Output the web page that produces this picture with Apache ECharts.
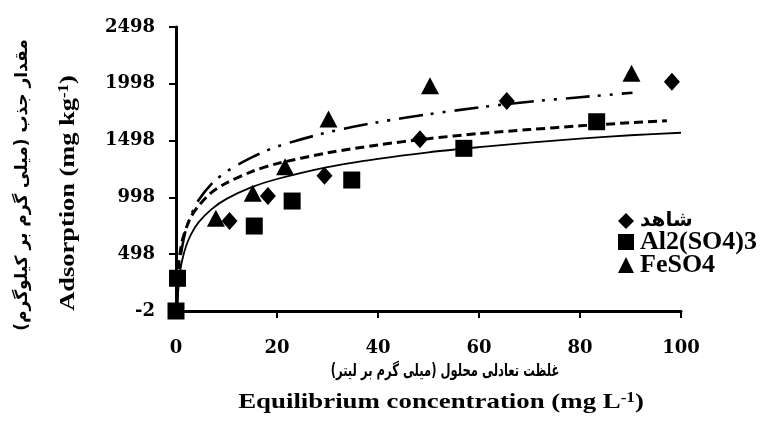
<!DOCTYPE html>
<html dir="ltr">
<head>
<meta charset="utf-8">
<script src="https://cdn.jsdelivr.net/npm/echarts@6/dist/echarts.min.js"></script>
<style>html,body{margin:0;padding:0;background:#fff;}#c{width:762px;height:436px;}</style>
</head>
<body>
<div id="c"></div>
<script>
// ---- data ----
const seriesNames = ['شاهد', 'Al2(SO4)3', 'FeSO4'];
const controlX = [10.6, 18.2, 29.4, 48.3, 65.5, 98.2];
const controlY = [790, 1010, 1189, 1509, 1846, 2016];
const alX = [0, 0.3, 15.5, 23, 34.8, 57, 83.3];
const alY = [-2, 286, 746, 966, 1151, 1430, 1664];
const feX = [7.9, 15.2, 21.6, 30.2, 50.3, 90.2];
const feY = [814, 1034, 1268, 1688, 1981, 2090];
// trend lines
const alTrendX = [0.22, 0.3, 0.5, 0.8, 1.2, 2, 3, 4.5, 7, 10, 15, 20, 30, 40, 50, 60, 70, 80, 90, 100];
const alTrendY = [10, 90, 220, 340, 440, 570, 675, 780, 893, 985, 1088, 1160, 1265, 1338, 1395, 1440, 1480, 1515, 1545, 1567];
const controlTrendX = [0.2, 0.3, 0.5, 0.8, 1.2, 2, 3, 4.5, 7, 10, 15, 20, 30, 40, 50, 60, 70, 80, 90, 97.2];
const controlTrendY = [120, 260, 390, 505, 610, 725, 830, 925, 1040, 1125, 1225, 1295, 1390, 1460, 1515, 1560, 1595, 1628, 1655, 1673];
const feTrendX = [0.2, 0.3, 0.5, 0.8, 1.2, 2, 3, 4.5, 7, 10, 15, 20, 30, 40, 50, 60, 70, 80, 90.4];
const feTrendY = [0, 130, 285, 430, 560, 720, 845, 975, 1115, 1225, 1350, 1445, 1570, 1660, 1730, 1790, 1840, 1880, 1919];
const xTicks = [0, 20, 40, 60, 80, 100];
const yTicks = [-2, 498, 998, 1498, 1998, 2498];
const xTitleFa = 'غلظت تعادلی محلول (میلی گرم بر لیتر)\u200F';
const xTitleEn = ['Equilibrium concentration (mg L', '-1', ')'];
const yTitleFa = 'مقدار جذب (میلی گرم بر کیلوگرم)\u200F';
const yTitleEn = ['Adsorption (mg kg', '-1', ')'];

const zip = (a, b) => a.map((v, i) => [v, b[i]]);
const FONT = '"Liberation Serif", "Times New Roman", "DejaVu Sans", serif';
const TICKFONT = '"DejaVu Serif", "Liberation Serif", serif';
const FAFONT = '"DejaVu Sans", sans-serif';

const chart = echarts.init(document.getElementById('c'), null, {renderer: 'canvas'});
const lineBase = {type: 'line', showSymbol: false, symbol: 'none', smooth: 0.3, z: 1, silent: true};
const supRich = (size) => ({
  a: {fontFamily: FONT, fontWeight: 'bold', fontSize: size, color: '#000'},
  s: {fontFamily: FONT, fontWeight: 'bold', fontSize: Math.round(size * 0.62), color: '#000', verticalAlign: 'top'}
});
const axisCommon = {
  splitLine: {show: false},
  axisLine: {show: true, onZero: false, lineStyle: {color: '#000', width: 3}},
  axisTick: {show: true, inside: false, length: 7, lineStyle: {color: '#000', width: 2}},
  axisLabel: {color: '#000', fontFamily: TICKFONT, fontWeight: 'bold', fontSize: 18, margin: 21, formatter: v => String(v)}
};
chart.setOption({
  backgroundColor: '#fff',
  animation: false,
  grid: {left: 176, right: 81, top: 27, bottom: 125, containLabel: false},
  xAxis: Object.assign({type: 'value', min: xTicks[0], max: xTicks[xTicks.length - 1], interval: xTicks[1] - xTicks[0]}, axisCommon,
    {axisLabel: Object.assign({}, axisCommon.axisLabel, {margin: 28})}),
  yAxis: Object.assign({type: 'value', min: yTicks[0], max: yTicks[yTicks.length - 1], interval: yTicks[1] - yTicks[0]}, axisCommon),
  legend: {
    data: seriesNames, orient: 'vertical', left: 618, top: 210,
    itemWidth: 16, itemHeight: 16, itemGap: -3, padding: 0,
    formatter: n => (/[\u0600-\u06FF]/.test(n) ? '{fa|' + n + '}' : '{en|' + n + '}'),
    textStyle: {
      color: '#000', fontFamily: FONT, fontWeight: 'bold', fontSize: 26, lineHeight: 22, padding: [0, 0, 0, 1],
      rich: {
        en: {fontFamily: FONT, fontWeight: 'bold', fontSize: 26, lineHeight: 22, color: '#000'},
        fa: {fontFamily: FAFONT, fontWeight: 'bold', fontSize: 20, lineHeight: 22, color: '#000'}
      }
    }
  },
  series: [
    Object.assign({}, lineBase, {name: 'trendAl', data: zip(alTrendX, alTrendY), lineStyle: {color: '#000', width: 1.8, type: 'solid'}}),
    Object.assign({}, lineBase, {name: 'trendControl', data: zip(controlTrendX, controlTrendY), lineStyle: {color: '#000', width: 3, type: [9, 5]}}),
    Object.assign({}, lineBase, {name: 'trendFe', data: zip(feTrendX, feTrendY), lineStyle: {color: '#000', width: 2.6, type: [24, 8, 3, 9, 3, 9]}}),
    {type: 'scatter', name: seriesNames[0], data: zip(controlX, controlY), symbol: 'diamond', symbolSize: [16, 18], itemStyle: {color: '#000', opacity: 1}, z: 3},
    {type: 'scatter', name: seriesNames[1], data: zip(alX, alY), symbol: 'rect', symbolSize: 17, itemStyle: {color: '#000', opacity: 1}, z: 3},
    {type: 'scatter', name: seriesNames[2], data: zip(feX, feY), symbol: 'triangle', symbolSize: [18, 17], itemStyle: {color: '#000', opacity: 1}, z: 3}
  ],
  graphic: [
    {type: 'text', x: 23, y: 185, rotation: Math.PI / 2,
      style: {text: yTitleFa, fontFamily: FAFONT, fontWeight: 'bold', fontSize: 17, fill: '#000', align: 'center', verticalAlign: 'middle'}},
    {type: 'text', x: 68, y: 193, rotation: Math.PI / 2, scaleX: 1.2,
      style: {text: '{a|' + yTitleEn[0] + '}{s|' + yTitleEn[1] + '}{a|' + yTitleEn[2] + '}', rich: supRich(22), align: 'center', verticalAlign: 'middle'}},
    {type: 'text', x: 445, y: 372, scaleX: 0.68,
      style: {text: xTitleFa, fontFamily: FAFONT, fontWeight: 'bold', fontSize: 17, fill: '#000', align: 'center', verticalAlign: 'middle'}},
    {type: 'text', x: 441, y: 402, scaleX: 1.22,
      style: {text: '{a|' + xTitleEn[0] + '}{s|' + xTitleEn[1] + '}{a|' + xTitleEn[2] + '}', rich: supRich(22), align: 'center', verticalAlign: 'middle'}}
  ]
});
</script>
</body>
</html>
